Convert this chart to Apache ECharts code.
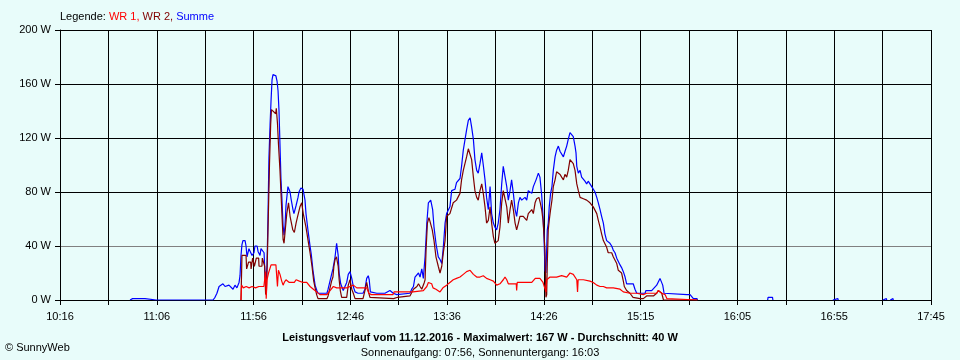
<!DOCTYPE html>
<html>
<head>
<meta charset="utf-8">
<script src="https://cdn.jsdelivr.net/npm/echarts@6/dist/echarts.min.js"></script>
<style>
html,body{margin:0;padding:0;background:#e8fcfa;}
#c{width:960px;height:360px;}
</style>
</head>
<body>
<div id="c"></div>
<script>
// x-axis tick labels (every second grid line is labelled)
const xLabels = ['10:16','11:06','11:56','12:46','13:36','14:26','15:15','16:05','16:55','17:45'];
const axisStartMin = 616;   // 10:16 in minutes since midnight
const axisEndMin = 1065;    // 17:45
const gridSteps = 18;       // vertical grid lines between start and end
const yMax = 200, yStep = 40;

// [minutes since midnight, W]; null = no value (line break)
const summe = [
[652.1,0],[652.3,1],[653.4,1],[653.6,0],[654.4,0],[654.6,1],[656.0,1],[656.2,0],[657.0,0],[657.2,1],[658.6,1],[658.8,0],[659.6,0],[659.8,1],[660.6,1],[660.8,0],
[665.6,0],[665.8,1],[666.6,1],[666.8,0],[670.0,0],[670.2,1],[670.8,1],[671.0,0],[674.0,0],[674.2,1],[675.0,1],[675.2,0],
[678.6,0],[678.8,1],[679.4,1],[679.6,0],[682.8,0],[683.0,1],[683.6,1],[683.8,0],[688.2,0],[688.4,1],[689.0,1],[689.2,0],
[694.9,0],[695.9,2],[696.9,5],[698.0,10],[699.0,11],[700.0,12],[701.1,10],[702.1,9],[703.1,11],[704.1,10],[705.2,8],[706.2,11],[707.2,9],[708.3,13],[708.8,18],
[709.3,33],[709.8,41],[710.3,44],[711.4,44],[711.9,40],[712.4,32],[713.4,38],[713.9,39],[715.0,33],[716.0,35],[716.5,40],[717.6,40],[718.1,36],[719.1,33],[719.6,38],[720.1,39],[721.2,35],
[721.7,17],[722.2,14],[722.7,25],[723.2,60],[723.7,105],[724.3,130],[724.8,148],[725.3,163],[725.8,167],[727.3,166],[727.9,162],[728.4,155],[728.9,140],[729.4,115],[729.9,90],
[730.4,75],[731.0,55],[731.5,48],[732.0,55],[732.5,70],[733.5,84],[734.6,80],[735.1,75],[736.1,67],[736.6,64],[737.1,64],[737.7,70],[738.7,76],[739.2,80],[740.2,83],[741.3,82],
[742.3,74],[742.8,64],[743.8,52],[744.9,40],[745.6,33],[746.4,22],[747.5,11],[748.4,7],[749.0,5],[753.6,5],[754.2,8],[756.0,19],[756.7,23],[757.8,32],[758.6,42],[759.1,41],
[759.4,33],[759.9,20],[760.7,12],[761.2,13],[762.0,7],[762.9,6],[763.8,13],[764.6,19],[765.5,21],[766.4,16],[767.2,10],[768.1,6],[769.6,5],[772.2,5],[773.2,8],[774.1,16],
[774.9,18],[775.4,15],[776.0,6],[779.3,5],[783.5,5],[786.1,7],[787.1,7],[787.8,5],[789.6,4],[796.4,5],[797.3,8],[798.2,10],[799.0,17],[800.0,16],[800.8,20],[801.6,17],
[802.5,23],[803.3,16],[803.8,25],[804.2,32],[805.1,57],[805.9,72],[807.1,74],[808.1,67],[808.8,54],[809.8,42],[811.0,32],[811.9,30],[812.8,27],[813.6,39],[814.5,57],[815.3,64],
[817.0,69],[817.9,81],[819.6,82],[820.4,87],[822.2,90],[823.0,99],[823.9,111],[824.8,119],[825.6,126],[826.5,133],[827.4,135],[828.2,128],[829.1,119],[829.9,104],[830.8,96],
[831.6,94],[832.5,101],[833.4,109],[834.2,100],[835.1,89],[835.9,76],[836.8,67],[837.7,84],[838.5,64],[839.4,57],[840.2,54],[841.1,52],[841.9,57],[842.8,67],[843.7,86],
[844.5,99],[845.4,100],[846.3,84],[847.1,74],[848.0,81],[848.8,89],[849.7,79],[850.6,67],[851.4,62],[852.3,72],[853.1,76],[854.0,74],[855.7,76],[856.6,74],[857.4,81],
[858.3,82],[859.2,79],[860.0,84],[861.4,89],[862.6,94],[863.4,91],[864.3,78],[865.0,62],[865.5,47],[866.0,22],[866.5,20],[866.9,20],[867.2,52],[867.7,57],[868.2,69],
[868.9,79],[869.6,84],[870.3,96],[871.2,106],[872.0,111],[872.9,114],[873.8,110],[874.6,109],[875.5,106],[876.3,110],[877.2,114],[878.0,119],[878.9,124],[879.8,124],
[880.6,121],[881.5,114],[882.0,109],[882.4,99],[883.2,94],[884.1,96],[884.9,91],[885.8,90],[886.6,88],[887.5,86],[888.3,88],[889.2,86],[890.1,84],[890.9,83],[891.8,80],
[892.7,76],[893.5,72],[894.4,67],[895.2,62],[896.1,57],[896.9,49],[897.8,44],[898.6,43],[899.5,42],[900.4,40],[901.2,37],[902.1,35],[903.0,31],[903.8,30],[904.7,26],
[905.5,24],[906.4,21],[907.3,17],[908.1,12],[911.5,12],[912.4,8],[913.3,5],[917.6,5],[918.0,7],[921.0,7],[921.9,8],[923.6,11],[924.5,12],[925.3,16],[926.2,15],[926.7,11],
[927.4,5],[927.9,4],[939.2,4],[939.7,5],[940.8,4],[941.6,3],[942.5,1],[944.4,1],[944.6,0],[945.0,null],
[980.8,0],[981.0,2],[983.3,2],[983.5,0],[983.7,null],[1014.4,0],[1014.6,1],[1017.0,1],[1017.2,0],[1017.4,null],
[1040.2,0],[1040.4,1],[1042.0,1],[1042.2,0],[1043.0,null],[1044.0,0],[1044.2,1],[1045.4,1],[1045.6,0]
];

const wr2 = [
[709.3,0],[709.8,33],[711.9,33],[712.2,23],[713.0,23],[713.2,28],[714.3,28],[714.5,23],[715.1,23],[715.3,31],[716.0,31],[716.2,25],[717.0,25],[717.2,31],[718.4,31],[718.6,25],
[720.1,25],[720.3,31],[721.2,31],[721.5,25],[722.0,4],[722.4,6],[722.8,25],[723.2,50],[724.0,101],[724.6,130],[725.0,141],[726.0,141],[727.2,138],[727.5,142],[728.1,131],
[728.6,116],[729.4,96],[730.3,67],[731.0,45],[731.5,42],[732.0,50],[732.9,64],[733.8,72],[734.6,62],[736.0,52],[736.8,50],[737.7,57],[738.5,62],[739.7,69],[740.6,72],
[741.4,64],[742.8,54],[744.0,43],[744.9,35],[745.9,25],[746.8,14],[747.5,9],[748.3,4],[749.0,1],[753.6,1],[754.2,3],[755.2,9],[756.0,14],[756.7,17],[757.2,25],[757.8,30],
[758.5,32],[759.1,32],[759.4,25],[759.9,15],[760.5,7],[761.2,2],[763.8,2],[764.6,11],[765.5,15],[766.4,8],[767.2,5],[768.1,1],[772.2,1],[773.2,7],[774.1,13],[774.6,12],
[775.2,5],[775.8,2],[788.0,1],[790.0,2],[796.4,3],[797.3,4],[798.2,8],[800.0,10],[800.8,12],[801.6,10],[802.5,8],[803.3,7],[803.8,13],[804.2,15],[804.7,37],[805.4,57],
[806.2,61],[807.1,60],[807.9,52],[808.8,44],[809.8,32],[811.0,25],[811.9,20],[812.8,25],[813.6,35],[814.5,44],[815.3,62],[817.0,64],[818.7,72],[820.4,74],[822.2,79],
[823.0,89],[823.9,96],[825.6,106],[826.5,112],[827.4,112],[828.2,104],[829.1,91],[829.9,81],[830.8,76],[831.6,74],[832.5,81],[833.4,86],[834.2,79],[835.1,69],[835.9,57],
[836.8,59],[837.7,69],[838.5,57],[839.4,47],[840.2,42],[841.1,41],[841.9,44],[842.8,54],[843.7,72],[844.5,81],[845.4,81],[846.3,69],[847.1,57],[848.0,67],[848.8,74],
[849.7,67],[850.6,57],[851.4,52],[852.3,57],[853.1,62],[854.8,62],[856.6,59],[857.4,64],[859.2,67],[860.0,64],[860.9,72],[861.7,75],[862.9,76],[863.6,72],[864.3,67],
[865.0,59],[866.0,37],[866.5,2],[866.9,4],[867.2,27],[867.7,52],[868.2,59],[868.9,67],[869.6,74],[870.3,84],[871.2,89],[872.0,95],[872.9,95],[873.8,93],[874.6,91],
[875.5,89],[876.3,93],[877.2,91],[878.0,96],[878.9,104],[879.8,104],[880.6,101],[881.5,96],[882.4,86],[883.2,81],[884.1,76],[885.8,75],[887.5,74],[889.2,72],[890.9,69],
[892.7,64],[893.5,59],[894.4,54],[895.2,49],[896.1,44],[897.8,39],[898.6,35],[899.5,34],[900.4,35],[901.2,32],[903.0,27],[903.8,22],[904.7,21],[905.5,20],[906.4,14],
[906.9,10],[908.1,7],[909.8,5],[911.4,2],[915.0,1],[916.7,1],[918.4,3],[921.9,3],[923.6,5],[924.4,7],[925.3,8],[926.2,5],[927.1,0],[944.6,0]
];

const wr1 = [
[709.3,0],[709.6,11],[710.5,9],[712.0,10],[713.5,9],[715.0,10],[716.8,9],[718.5,10],[721.1,10],[721.6,11],[722.0,21],[722.3,1],[722.7,15],[723.5,20],[724.0,19],[724.8,26],
[727.3,26],[727.6,20],[728.1,10],[728.6,22],[729.4,19],[730.3,14],[731.0,11],[731.6,13],[732.5,15],[733.3,14],[734.2,13],[735.1,14],[736.8,13],[737.7,15],[739.4,14],
[740.2,13],[741.3,13],[743.2,13],[744.9,10],[746.6,8],[748.3,6],[750.0,4],[753.6,4],[755.2,7],[756.9,10],[758.6,9],[760.3,9],[763.8,9],[765.5,10],[767.2,11],[769.0,9],
[774.1,9],[775.2,5],[776.5,4],[787.7,4],[788.2,6],[798.0,6],[799.0,7],[803.3,7],[804.2,8],[805.1,10],[805.9,13],[806.7,13],[807.6,12],[808.3,9],[809.8,8],[811.9,6],
[813.4,9],[815.3,11],[817.0,13],[818.7,15],[820.4,16],[822.2,17],[823.9,19],[825.6,21],[827.4,22],[829.1,19],[830.8,17],[832.5,17],[834.2,18],[835.9,16],[837.7,15],
[839.4,14],[841.1,11],[842.8,12],[844.5,15],[845.4,17],[846.3,15],[847.1,12],[848.0,13],[849.7,12],[851.2,12],[851.4,7],[851.7,13],[853.1,13],[857.4,13],[859.2,13],
[861.0,16],[863.4,16],[864.3,15],[865.0,13],[866.0,12],[866.5,6],[866.9,15],[868.6,17],[872.0,17],[874.6,18],[877.2,17],[878.9,20],[880.6,19],[882.4,15],[882.8,6],
[883.1,15],[885.8,15],[889.2,14],[890.9,13],[892.7,11],[894.4,10],[896.1,10],[897.8,9],[901.2,9],[904.7,8],[906.4,6],[909.8,5],[913.3,5],[916.7,4],[918.4,5],[923.6,5],
[924.4,7],[925.3,7],[926.3,5],[927.9,4],[928.9,1],[929.5,0],[944.6,0]
];

const stepMin = (axisEndMin - axisStartMin) / gridSteps;
const toAxis = arr => arr.map(p => [(p[0] - axisStartMin) / stepMin, p[1] === null ? '-' : p[1]]);

const FONT = 'Liberation Sans, Arial, sans-serif';
const chart = echarts.init(document.getElementById('c'), null, {renderer: 'canvas'});
chart.setOption({
  animation: false,
  backgroundColor: '#e8fcfa',
  textStyle: {fontFamily: FONT},
  grid: {left: 60, right: 29, top: 30, bottom: 60, containLabel: false},
  xAxis: {
    type: 'value', min: 0, max: gridSteps, interval: 1,
    axisLine: {show: true, onZero: false, lineStyle: {color: '#000', width: 1}},
    axisTick: {show: true, length: 5, lineStyle: {color: '#000'}},
    axisLabel: {
      color: '#000', fontSize: 11, fontFamily: FONT, margin: 11,
      formatter: v => (Math.round(v) % 2 === 0 ? xLabels[Math.round(v) / 2] : '')
    },
    splitLine: {show: true, lineStyle: {color: '#000', width: 1}}
  },
  yAxis: {
    type: 'value', min: 0, max: yMax, interval: yStep,
    axisLine: {show: true, lineStyle: {color: '#000', width: 1}},
    axisTick: {show: true, length: 5, lineStyle: {color: '#000'}},
    axisLabel: {color: '#000', fontSize: 11, fontFamily: FONT, margin: 9, formatter: '{value} W'},
    splitLine: {show: true, lineStyle: {color: ['#000', '#808080', '#000', '#000', '#000', '#000'], width: 1}}
  },
  series: [
    {name: 'Summe', type: 'line', data: toAxis(summe), symbol: 'none', connectNulls: false,
     lineStyle: {color: '#0000ff', width: 1.2}, itemStyle: {color: '#0000ff'}, silent: true},
    {name: 'WR 2', type: 'line', data: toAxis(wr2), symbol: 'none',
     lineStyle: {color: '#800000', width: 1.2}, itemStyle: {color: '#800000'}, silent: true},
    {name: 'WR 1', type: 'line', data: toAxis(wr1), symbol: 'none',
     lineStyle: {color: '#ff0000', width: 1.2}, itemStyle: {color: '#ff0000'}, silent: true}
  ],
  graphic: [
    {type: 'text', left: 60, top: 11, style: {
      text: '{k|Legende: }{a|WR 1, }{b|WR 2, }{c|Summe}',
      font: '11px ' + FONT,
      rich: {
        k: {fill: '#000', fontSize: 11, fontFamily: FONT},
        a: {fill: '#ff0000', fontSize: 11, fontFamily: FONT},
        b: {fill: '#800000', fontSize: 11, fontFamily: FONT},
        c: {fill: '#0000ff', fontSize: 11, fontFamily: FONT}
      }
    }},
    {type: 'text', x: 480, y: 332, style: {
      text: 'Leistungsverlauf vom 11.12.2016 - Maximalwert: 167 W - Durchschnitt: 40 W',
      fill: '#000', font: 'bold 11px ' + FONT, textAlign: 'center'
    }},
    {type: 'text', x: 480, y: 347, style: {
      text: 'Sonnenaufgang: 07:56, Sonnenuntergang: 16:03',
      fill: '#000', font: '11px ' + FONT, textAlign: 'center'
    }},
    {type: 'text', x: 5, y: 342, style: {
      text: '© SunnyWeb', fill: '#000', font: '11px ' + FONT
    }}
  ]
});
</script>
</body>
</html>
